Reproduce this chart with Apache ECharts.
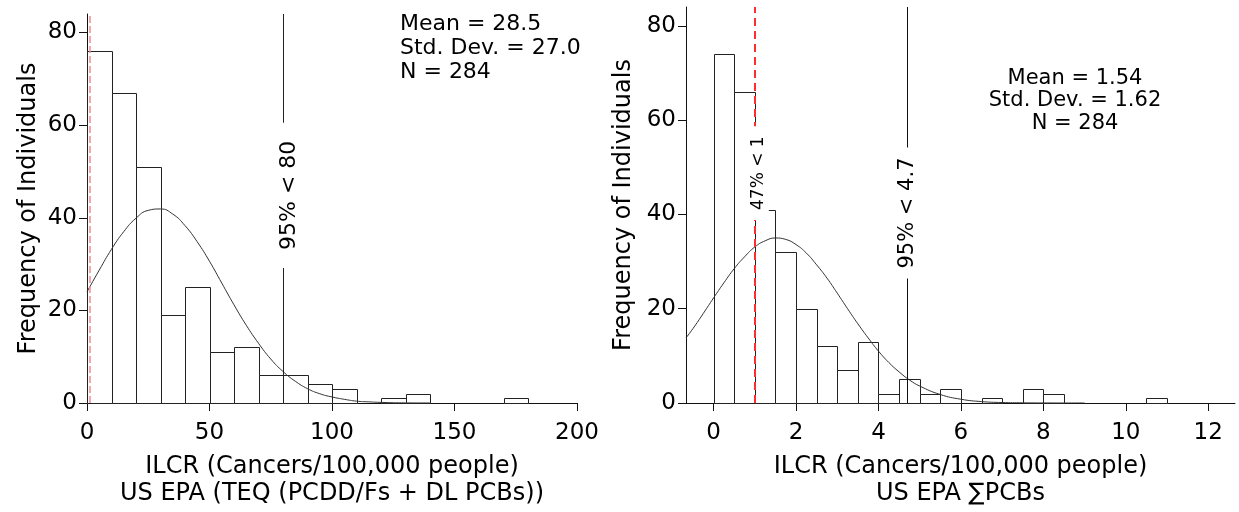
<!DOCTYPE html>
<html><head><meta charset="utf-8">
<script src="https://cdn.jsdelivr.net/npm/echarts@6/dist/echarts.min.js"></script>
<style>html,body{margin:0;padding:0;background:#fff}#c{width:1239px;height:512px}</style>
</head><body><div id="c"></div>
<script>
// ---------- data ----------
// Left panel: ILCR US EPA (TEQ (PCDD/Fs + DL PCBs)), bins of width 10
const leftBinStarts = [0,10,20,30,40,50,60,70,80,90,100,110,120,130,140,150,160,170];
const leftBinEnds   = [10,20,30,40,50,60,70,80,90,100,110,120,130,140,150,160,170,180];
const leftCounts    = [76,67,51,19,25,11,12,6,6,4,3,0,1,2,0,0,0,1];
// normal curve
const leftCurveX = [0,5,10,15,20,25,30,35,40,45,50,55,60,65,70,75,80,85,90,95,100,105,110,115,120,130,140];
const leftCurveY = [24.0,28.7,33.2,37.0,39.9,41.6,41.9,40.8,38.3,34.8,30.6,25.9,21.2,16.8,12.9,9.5,6.8,4.7,3.1,2.0,1.3,0.8,0.4,0.25,0.13,0.03,0.01];
const leftXTicks = [0,50,100,150,200];
const leftYTicks = [0,20,40,60,80];
const leftStats = ['Mean = 28.5','Std. Dev. = 27.0','N = 284'];
const leftRef = {red: 1, p95: 80, p95Label: '95% < 80'};

// Right panel: ILCR US EPA ∑PCBs, bins of width 0.5
const rightBinStarts = [0,0.5,1,1.5,2,2.5,3,3.5,4,4.5,5,5.5,6,6.5,7,7.5,8,8.5,9,9.5,10,10.5];
const rightBinEnds   = [0.5,1,1.5,2,2.5,3,3.5,4,4.5,5,5.5,6,6.5,7,7.5,8,8.5,9,9.5,10,10.5,11];
const rightCounts    = [74,66,41,32,20,12,7,13,2,5,2,3,0,1,0,3,2,0,0,0,0,1];
const rightCurveX = [-0.67,-0.5,-0.25,0,0.25,0.5,0.75,1,1.25,1.5,1.75,2,2.25,2.5,2.75,3,3.25,3.5,3.75,4,4.25,4.5,4.75,5,5.5,6,6.5,7,7.5,8,9];
const rightCurveY = [13.8,15.8,19.0,22.3,25.5,28.5,31.0,33.1,34.4,35.0,34.7,33.6,31.8,29.3,26.5,23.3,20.0,16.8,13.8,11.0,8.6,6.6,4.9,3.6,1.8,0.8,0.3,0.1,0.04,0.01,0];
const rightXTicks = [0,2,4,6,8,10,12];
const rightYTicks = [0,20,40,60,80];
const rightStats = ['Mean = 1.54','Std. Dev. = 1.62','N = 284'];
const rightRef = {red: 1, redLabel: '47% < 1', p95: 4.7, p95Label: '95% < 4.7'};

const xTitleLeft = 'ILCR (Cancers/100,000 people)\nUS EPA (TEQ (PCDD/Fs + DL PCBs))';
const xTitleRight = 'ILCR (Cancers/100,000 people)\nUS EPA ∑PCBs';
const yTitle = 'Frequency of Individuals';

// ---------- chart ----------
const FONT = 'DejaVu Sans';
const INK = '#111';
function histData(s, e, c){ return s.map((v,i)=>[v, e[i], c[i]]); }
function pairs(x, y){ return x.map((v,i)=>[v, y[i]]); }
function renderBar(params, api){
  const c = api.value(2);
  if (!c) return null;
  const p1 = api.coord([api.value(0), c]);
  const p2 = api.coord([api.value(1), 0]);
  const x1 = Math.round(p1[0]) + 0.5, x2 = Math.round(p2[0]) + 0.5;
  const y1 = Math.round(p1[1]) + 0.5, y2 = Math.round(p2[1]) + 0.5;
  return {type:'rect', shape:{x:x1, y:y1, width:x2-x1, height:y2-y1},
    style:{fill:'#fff', stroke:'#222', lineWidth:1}};
}
function xAxisCfg(idx, min, max, ticks, name){
  return {type:'value', gridIndex: idx, min, max,
    axisLine:{show:true, onZero:false, lineStyle:{color:INK, width:1}},
    axisTick:{show:true, length:8, customValues: ticks, lineStyle:{color:INK}},
    axisLabel:{customValues: ticks, fontFamily:FONT, fontSize:23, color:'#000', margin:19},
    splitLine:{show:false},
    name, nameLocation:'middle', nameGap:50,
    nameTextStyle:{fontFamily:FONT, fontSize:24, color:'#000', lineHeight:27}};
}
function yAxisCfg(idx, ticks, gap){
  return {type:'value', gridIndex: idx, min:0, max:84,
    axisLine:{show:true, onZero:false, lineStyle:{color:INK, width:1}},
    axisTick:{show:true, length:8, customValues: ticks, lineStyle:{color:INK}},
    axisLabel:{customValues: ticks, fontFamily:FONT, fontSize:23, color:'#000', margin:10},
    splitLine:{show:false},
    name: yTitle, nameLocation:'middle', nameGap: gap,
    nameTextStyle:{fontFamily:FONT, fontSize:24, color:'#000'}};
}
function refLabel(text, size, pad, position, dist){
  return {show:true, formatter:text, position, distance:[0, dist], fontFamily:FONT, fontSize:size,
    color:'#000', backgroundColor:'#fff', padding:[2,pad,2,pad], opacity:1};
}
const hidden = {color:'rgba(0,0,0,0)', width:0, opacity:1};

const chart = echarts.init(document.getElementById('c'), null, {renderer:'canvas'});
chart.setOption({
  animation:false,
  backgroundColor:'#fff',
  grid:[
    {left:87, top:14, width:490, height:395},
    {left:686, top:7, width:549, height:404}
  ],
  xAxis:[
    xAxisCfg(0, 0, 200, leftXTicks, xTitleLeft),
    xAxisCfg(1, -0.67, 12.65, rightXTicks, xTitleRight)
  ],
  yAxis:[ yAxisCfg(0, leftYTicks, 46), yAxisCfg(1, rightYTicks, 50) ],
  series:[
    {type:'custom', xAxisIndex:0, yAxisIndex:0, z:2, renderItem:renderBar,
     data: histData(leftBinStarts, leftBinEnds, leftCounts)},
    {type:'custom', xAxisIndex:1, yAxisIndex:1, z:2, renderItem:renderBar,
     data: histData(rightBinStarts, rightBinEnds, rightCounts)},
    {type:'line', xAxisIndex:0, yAxisIndex:0, z:3, smooth:true, symbol:'none',
     lineStyle:{color:'#333', width:1}, data: pairs(leftCurveX, leftCurveY),
     markLine:{silent:true, symbol:'none', animation:false,
       data:[
         {xAxis:leftRef.red, lineStyle:{color:'#f28a94', width:1.5, type:[7,3]}, label:{show:false}},
         {xAxis:leftRef.p95, lineStyle:{color:'#222', width:1, type:'solid'}, label:{show:false}},
         [{coord:[leftRef.p95, 29], lineStyle:hidden,
           label:refLabel(leftRef.p95Label, 22, 18, 'insideMiddleBottom', -7)},
          {coord:[leftRef.p95, 60.7]}]
       ]}},
    {type:'line', xAxisIndex:1, yAxisIndex:1, z:3, smooth:true, symbol:'none',
     lineStyle:{color:'#333', width:1}, data: pairs(rightCurveX, rightCurveY),
     markLine:{silent:true, symbol:'none', animation:false,
       data:[
         {xAxis:rightRef.red, lineStyle:{color:'#ff2e2e', width:2, type:[8,5]}, label:{show:false}},
         {xAxis:rightRef.p95, lineStyle:{color:'#111', width:1, type:'solid'}, label:{show:false}},
         [{coord:[rightRef.red, 39], lineStyle:hidden,
           label:refLabel(rightRef.redLabel, 17, 10, 'insideMiddleBottom', -7)},
          {coord:[rightRef.red, 58.5]}],
         [{coord:[rightRef.p95, 27.4], lineStyle:hidden,
           label:refLabel(rightRef.p95Label, 21, 10, 'insideMiddle', 0)},
          {coord:[rightRef.p95, 53.2]}]
       ]}}
  ],
  graphic:[
    {type:'text', x:400, y:12, z:10, style:{text:leftStats.join('\n'), fontFamily:FONT, fontSize:22,
      lineHeight:24, fill:'#000', textAlign:'left', textVerticalAlign:'top'}},
    {type:'text', x:1075, y:67, z:10, style:{text:rightStats.join('\n'), fontFamily:FONT, fontSize:21,
      lineHeight:22.5, fill:'#000', textAlign:'center', textVerticalAlign:'top'}}
  ]
});
</script>
</body></html>
